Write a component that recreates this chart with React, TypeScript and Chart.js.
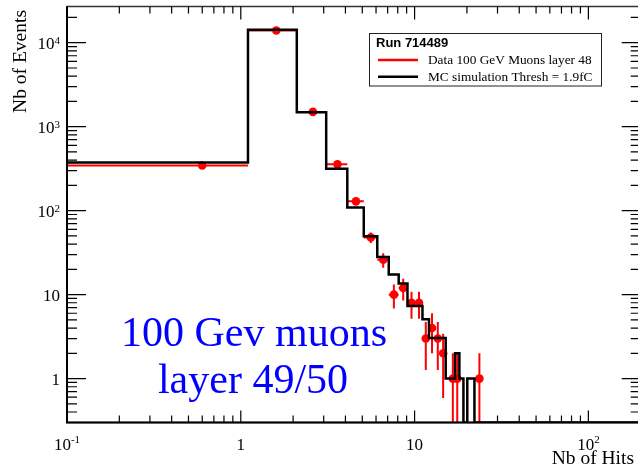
import React, { useEffect, useRef } from 'react';
import { Chart, registerables } from 'chart.js';

Chart.register(...registerables);

// Hit-multiplicity histogram, bins of width 1 starting at 0.1
const binLow = [0.1, 1.1, 2.1, 3.1, 4.1, 5.1, 6.1, 7.1, 8.1, 9.1, 10.1, 11.1, 12.1, 13.1, 14.1, 15.1, 16.1, 17.1, 18.1, 19.1, 20.1, 21.1, 22.1, 23.1];
const BIN_WIDTH = 1;

// Measured events per bin (run 714489)
const dataCounts = [345, 14000, 1500, 356, 129, 48, 26, 10, 12, 8, 8, 3, 4, 3, 2, 0, 1, 1, 0, 0, 0, 0, 0, 1];

// Simulated events per bin, normalised to the data
const mcCounts = [375, 14300, 1490, 315, 109, 49.7, 28.1, 17.4, 13.6, 7.3, 7.3, 5.1, 3.05, 3.05, 3.05, 1, 1, 2, 1, 0, 1, 1, 0, 0];

const X_MIN = 0.1;
const X_MAX = 200;
const Y_MIN = 0.3;
const Y_MAX = 27000;

// Decade labels: base and exponent
const xTickLabels = [
  { value: 0.1, base: '10', exp: '-1' },
  { value: 1, base: '1', exp: '' },
  { value: 10, base: '10', exp: '' },
  { value: 100, base: '10', exp: '2' },
];
const yTickLabels = [
  { value: 1, base: '1', exp: '' },
  { value: 10, base: '10', exp: '' },
  { value: 100, base: '10', exp: '2' },
  { value: 1000, base: '10', exp: '3' },
  { value: 10000, base: '10', exp: '4' },
];

const legendTitle = 'Run 714489';
const dataLabel = 'Data 100 GeV Muons layer 48';
const mcLabel = 'MC simulation Thresh = 1.9fC';
const noteLines = ['100 Gev muons', 'layer 49/50'];
const xTitle = 'Nb of Hits';
const yTitle = 'Nb of Events';

const RED = '#ff0000';
const SERIF = '"Liberation Serif", "Times New Roman", serif';
const SANS = '"Liberation Sans", Arial, sans-serif';

const CANVAS_W = 648;
const CANVAS_H = 470;

const mcPoints = [
  ...binLow.map((lo, i) => ({ x: lo, y: mcCounts[i] > 0 ? mcCounts[i] : Y_MIN })),
  { x: X_MAX, y: Y_MIN },
];

const dataPoints = binLow
  .map((lo, i) => ({ x: lo + BIN_WIDTH / 2, y: dataCounts[i], lo, hi: lo + BIN_WIDTH }))
  .filter((p) => p.y > 0);

function decadeMinors(lo: number, hi: number) {
  const out: number[] = [];
  for (let d = Math.floor(Math.log10(lo)); d <= Math.ceil(Math.log10(hi)); d++) {
    for (let m = 2; m <= 9; m++) {
      const v = m * Math.pow(10, d);
      if (v > lo && v < hi) out.push(v);
    }
  }
  return out;
}

const errorBars = {
  id: 'errorBars',
  beforeDatasetDraw(chart: any, args: any) {
    if (args.index !== 1) return;
    const { ctx, chartArea: a, scales } = chart;
    const x = scales.x;
    const y = scales.y;
    ctx.save();
    ctx.beginPath();
    ctx.rect(a.left, a.top, a.right - a.left, a.bottom - a.top);
    ctx.clip();
    ctx.strokeStyle = RED;
    ctx.lineWidth = 2;
    ctx.beginPath();
    for (const p of dataPoints) {
      const px = x.getPixelForValue(p.x);
      const py = y.getPixelForValue(p.y);
      const err = Math.sqrt(p.y);
      const top = y.getPixelForValue(p.y + err);
      const low = p.y - err;
      const bot = low > Y_MIN ? y.getPixelForValue(low) : a.bottom;
      ctx.moveTo(x.getPixelForValue(p.lo), py);
      ctx.lineTo(x.getPixelForValue(p.hi), py);
      ctx.moveTo(px, top);
      ctx.lineTo(px, bot);
    }
    ctx.stroke();
    ctx.restore();
  },
};

const frameAndText = {
  id: 'frameAndText',
  afterDraw(chart: any) {
    const { ctx, chartArea: a, scales } = chart;
    const x = scales.x;
    const y = scales.y;
    ctx.save();

    // frame
    ctx.strokeStyle = '#333';
    ctx.lineWidth = 1.5;
    ctx.strokeRect(a.left, a.top, a.right - a.left, a.bottom - a.top);
    ctx.strokeStyle = '#000';
    ctx.lineWidth = 2;
    ctx.beginPath();
    ctx.moveTo(a.left, a.top);
    ctx.lineTo(a.left, a.bottom);
    ctx.lineTo(a.right, a.bottom);
    ctx.stroke();

    // ticks
    ctx.lineWidth = 1.2;
    ctx.strokeStyle = '#000';
    ctx.beginPath();
    const xMajors = xTickLabels.map((t) => t.value);
    const xMinors = decadeMinors(X_MIN, X_MAX);
    for (const v of xMajors) {
      const px = x.getPixelForValue(v);
      ctx.moveTo(px, a.bottom);
      ctx.lineTo(px, a.bottom - 12);
      ctx.moveTo(px, a.top);
      ctx.lineTo(px, a.top + 13);
    }
    for (const v of xMinors) {
      const px = x.getPixelForValue(v);
      ctx.moveTo(px, a.bottom);
      ctx.lineTo(px, a.bottom - 7);
      ctx.moveTo(px, a.top);
      ctx.lineTo(px, a.top + 7);
    }
    const yMajors = yTickLabels.map((t) => t.value);
    const yMinors = decadeMinors(Y_MIN, Y_MAX);
    for (const v of yMajors) {
      const py = y.getPixelForValue(v);
      ctx.moveTo(a.left, py);
      ctx.lineTo(a.left + 19, py);
      ctx.moveTo(a.right, py);
      ctx.lineTo(a.right - 19, py);
    }
    for (const v of yMinors) {
      const py = y.getPixelForValue(v);
      ctx.moveTo(a.left, py);
      ctx.lineTo(a.left + 10, py);
      ctx.moveTo(a.right, py);
      ctx.lineTo(a.right - 10, py);
    }
    ctx.stroke();

    // tick labels
    ctx.fillStyle = '#000';
    ctx.textBaseline = 'alphabetic';
    const baseFont = `17px ${SERIF}`;
    const expFont = `11px ${SERIF}`;
    for (const t of xTickLabels) {
      ctx.font = baseFont;
      const wb = ctx.measureText(t.base).width;
      ctx.font = expFont;
      const we = t.exp ? ctx.measureText(t.exp).width : 0;
      const start = x.getPixelForValue(t.value) - (wb + we) / 2;
      ctx.textAlign = 'left';
      ctx.font = baseFont;
      ctx.fillText(t.base, start, a.bottom + 27.5);
      if (t.exp) {
        ctx.font = expFont;
        ctx.fillText(t.exp, start + wb, a.bottom + 20);
      }
    }
    for (const t of yTickLabels) {
      ctx.font = baseFont;
      const wb = ctx.measureText(t.base).width;
      ctx.font = expFont;
      const we = t.exp ? ctx.measureText(t.exp).width : 0;
      const py = y.getPixelForValue(t.value);
      const start = 60 - (wb + we);
      ctx.textAlign = 'left';
      ctx.font = baseFont;
      ctx.fillText(t.base, start, py + 6.5);
      if (t.exp) {
        ctx.font = expFont;
        ctx.fillText(t.exp, start + wb, py + 1.5);
      }
    }

    // axis titles
    ctx.font = `19.5px ${SERIF}`;
    ctx.textAlign = 'right';
    ctx.fillText(xTitle, 634, 464);
    ctx.save();
    ctx.translate(26, 10);
    ctx.rotate(-Math.PI / 2);
    ctx.textAlign = 'right';
    ctx.fillText(yTitle, 0, 0);
    ctx.restore();

    // legend
    const lx = 369.5;
    const ly = 33.5;
    const lw = 232;
    const lh = 52.5;
    ctx.fillStyle = '#fff';
    ctx.fillRect(lx, ly, lw, lh);
    ctx.strokeStyle = '#222';
    ctx.lineWidth = 1;
    ctx.strokeRect(lx, ly, lw, lh);
    ctx.fillStyle = '#000';
    ctx.textAlign = 'left';
    ctx.textBaseline = 'alphabetic';
    ctx.font = `bold 13px ${SANS}`;
    ctx.fillText(legendTitle, 376, 47);
    ctx.lineWidth = 2.5;
    ctx.strokeStyle = RED;
    ctx.beginPath();
    ctx.moveTo(378, 60);
    ctx.lineTo(418, 60);
    ctx.stroke();
    ctx.strokeStyle = '#000';
    ctx.beginPath();
    ctx.moveTo(378, 76.7);
    ctx.lineTo(418, 76.7);
    ctx.stroke();
    ctx.font = `13.3px ${SERIF}`;
    ctx.textBaseline = 'middle';
    ctx.fillText(dataLabel, 428, 61);
    ctx.fillText(mcLabel, 428, 77.5);

    // annotation
    ctx.fillStyle = '#0000ff';
    ctx.font = `42px ${SERIF}`;
    ctx.textAlign = 'center';
    ctx.textBaseline = 'alphabetic';
    ctx.fillText(noteLines[0], 254, 346);
    ctx.fillText(noteLines[1], 253, 393);

    ctx.restore();
  },
};

export default function App() {
  const ref = useRef<HTMLCanvasElement | null>(null);

  useEffect(() => {
    const canvas = ref.current;
    if (!canvas) return;
    const chart = new Chart(canvas, {
      type: 'scatter',
      data: {
        datasets: [
          {
            type: 'line',
            label: mcLabel,
            data: mcPoints,
            stepped: 'before',
            borderColor: '#000',
            borderWidth: 2.5,
            pointRadius: 0,
            fill: false,
          } as any,
          {
            type: 'scatter',
            label: dataLabel,
            data: dataPoints.map((p) => ({ x: p.x, y: p.y })),
            backgroundColor: RED,
            borderColor: RED,
            borderWidth: 0,
            pointRadius: 4.3,
          },
        ],
      },
      options: {
        animation: false,
        responsive: false,
        devicePixelRatio: 1,
        layout: {
          padding: { left: 67, top: 6.5, right: CANVAS_W - 640.7, bottom: CANVAS_H - 422.5 },
        },
        scales: {
          x: { type: 'logarithmic', min: X_MIN, max: X_MAX, display: false },
          y: { type: 'logarithmic', min: Y_MIN, max: Y_MAX, display: false },
        },
        plugins: {
          legend: { display: false },
          tooltip: { enabled: false },
        },
      },
      plugins: [errorBars, frameAndText],
    });
    return () => chart.destroy();
  }, []);

  return (
    <div
      style={{
        position: 'fixed',
        left: 0,
        top: 0,
        width: 638,
        height: 470,
        overflow: 'hidden',
        background: '#fff',
      }}
    >
      <canvas ref={ref} width={CANVAS_W} height={CANVAS_H} style={{ width: CANVAS_W, height: CANVAS_H, display: 'block' }} />
    </div>
  );
}
